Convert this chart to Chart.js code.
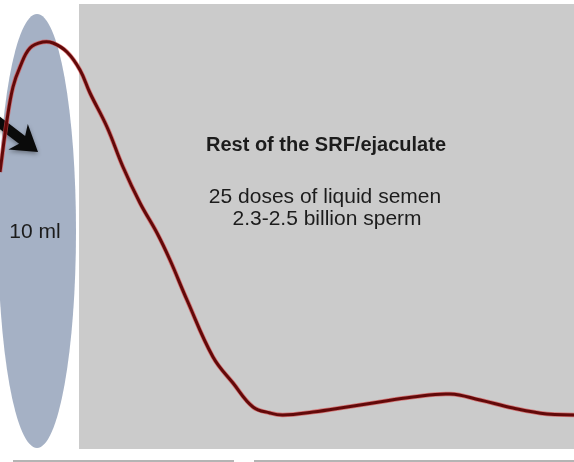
<!DOCTYPE html>
<html>
<head>
<meta charset="utf-8">
<script src="https://cdn.jsdelivr.net/npm/chart.js@4/dist/chart.umd.min.js"></script>
<style>
  html, body { margin: 0; padding: 0; background: #fff; }
  #wrap { width: 574px; height: 462px; }
</style>
</head>
<body>
<div id="wrap"><canvas id="myChart"></canvas></div>
<script>
// curve (x along the ejaculate, y = relative sperm concentration)
const xValues = [0, 7, 13, 20, 30, 43, 53, 67, 80, 90, 107, 123, 140, 157, 170, 187, 213, 233, 253, 270, 283, 313, 347, 373, 413, 450, 480, 513, 547, 574];
const yValues = [290, 342, 375, 395, 414, 420, 419, 410, 392, 369, 335, 295, 259, 229, 202, 162, 105, 79, 55, 49, 47, 50, 55, 59, 65, 68, 62, 54, 48, 47];

const titleText = "Rest of the SRF/ejaculate";
const infoLines = ["25 doses of liquid semen", "2.3-2.5 billion sperm"];
const firstFractionLabel = "10 ml";

const points = xValues.map((x, i) => ({ x: x, y: yValues[i] }));

const backdrop = {
    id: "backdrop",
    beforeDatasetsDraw(chart) {
        const ctx = chart.ctx;
        const xs = chart.scales.x;
        const ys = chart.scales.y;
        const px = (v) => xs.getPixelForValue(v);
        const py = (v) => ys.getPixelForValue(v);
        ctx.save();
        // rest of the fraction
        ctx.fillStyle = "#cbcbcb";
        ctx.fillRect(px(79), py(458), px(574) - px(79), py(13) - py(458));
        // first 10 ml
        ctx.fillStyle = "#a5b1c5";
        ctx.beginPath();
        ctx.ellipse(px(37), py(231), 39, 217, 0, 0, Math.PI * 2);
        ctx.fill();
        // bottom rules
        ctx.strokeStyle = "#b4b4b4";
        ctx.lineWidth = 2;
        ctx.beginPath();
        ctx.moveTo(px(13), py(1)); ctx.lineTo(px(234), py(1));
        ctx.moveTo(px(254), py(1)); ctx.lineTo(px(574), py(1));
        ctx.stroke();
        // arrow
        const sx = px(-4), sy = py(342), tx = px(38), ty = py(310);
        const ang = Math.atan2(ty - sy, tx - sx);
        const headLen = 25, headW = 16, shaft = 5;
        ctx.translate(tx, ty);
        ctx.rotate(ang);
        const len = Math.hypot(tx - sx, ty - sy);
        ctx.shadowColor = "rgba(0,0,0,0.35)";
        ctx.shadowBlur = 4;
        ctx.shadowOffsetY = 2;
        ctx.fillStyle = "#0a0a0a";
        ctx.beginPath();
        ctx.moveTo(0, 0);
        ctx.lineTo(-headLen, -headW);
        ctx.lineTo(-headLen + 5, -shaft);
        ctx.lineTo(-len, -shaft);
        ctx.lineTo(-len, shaft);
        ctx.lineTo(-headLen + 5, shaft);
        ctx.lineTo(-headLen, headW);
        ctx.closePath();
        ctx.fill();
        ctx.restore();
    },
    afterDatasetsDraw(chart) {
        const ctx = chart.ctx;
        const xs = chart.scales.x;
        const ys = chart.scales.y;
        ctx.save();
        ctx.fillStyle = "#1c1c1c";
        ctx.textAlign = "center";
        ctx.textBaseline = "middle";
        ctx.font = "bold 20px 'Liberation Sans', Arial, sans-serif";
        ctx.fillText(titleText, xs.getPixelForValue(326), ys.getPixelForValue(317));
        ctx.font = "21px 'Liberation Sans', Arial, sans-serif";
        ctx.fillText(infoLines[0], xs.getPixelForValue(325), ys.getPixelForValue(265));
        ctx.fillText(infoLines[1], xs.getPixelForValue(327), ys.getPixelForValue(243));
        ctx.fillText(firstFractionLabel, xs.getPixelForValue(35), ys.getPixelForValue(230));
        ctx.restore();
    }
};

const config = {
    type: "line",
    data: {
        datasets: [
            {
                data: points,
                borderColor: "#620909",
                borderWidth: 3,
                pointRadius: 0,
                tension: 0.4,
                fill: false,
                order: 1,
            },
            {
                data: points,
                borderColor: "rgba(215, 80, 80, 0.7)",
                borderWidth: 4.5,
                pointRadius: 0,
                tension: 0.4,
                fill: false,
                order: 2,
            },
        ],
    },
    options: {
        responsive: true,
        maintainAspectRatio: false,
        animation: false,
        layout: { padding: 0 },
        events: [],
        scales: {
            x: { type: "linear", min: 0, max: 574, display: false },
            y: { type: "linear", min: 0, max: 462, display: false },
        },
        plugins: {
            legend: { display: false },
            tooltip: { enabled: false },
            title: { display: false },
        },
    },
    plugins: [backdrop],
};

new Chart(document.getElementById("myChart"), config);
</script>
</body>
</html>
